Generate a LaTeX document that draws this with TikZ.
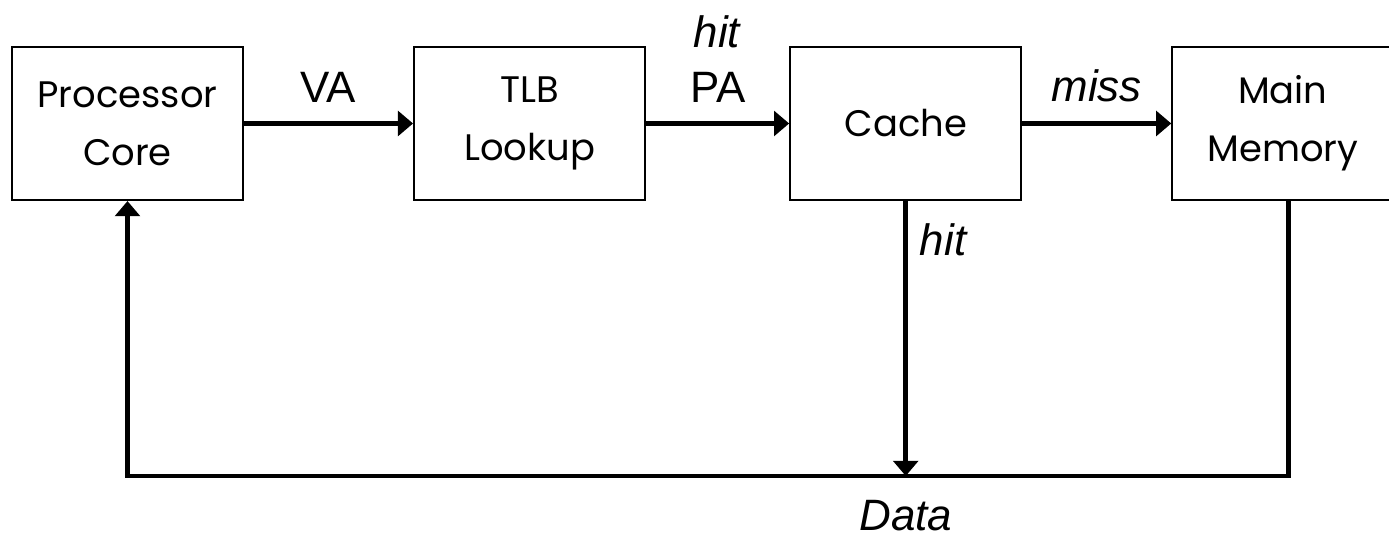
\documentclass[tikz,border=0pt]{standalone}
\usepackage{fontspec}
\setmainfont{Liberation Sans}
\newfontfamily\boxfont{Poppins}
\usetikzlibrary{positioning, arrows.meta}
\tikzset{
unit/.style={draw, semithick, minimum width=2.31cm, minimum height=1.53cm, align=center,
  font=\boxfont\fontsize{10.5}{16.5}\selectfont}, % the blocks of the memory path
flow/.style={line width=1.4pt, -{Triangle[length=4.3pt, width=7pt]}}, % thick directed lines
lbl/.style={font=\fontsize{12.5}{15.6}\selectfont, align=center}, % texts on the lines
}
\begin{document}
\begin{tikzpicture}
    \useasboundingbox (0,0) rectangle (13.89,-5.38);
    \node[unit] (core) at (1.275,-1.235) {Processor\\Core};
    \node[unit, right=1.69cm of core] (tlb) {TLB\\Lookup};
    \node[unit, right=1.43cm of tlb] (cache) {Cache};
    \node[unit, minimum width=2.21cm, right=1.49cm of cache] (mem) {Main\\Memory};
    \coordinate (bus) at (0,-4.76);

  \draw[flow] (core) -- node[lbl, above=2pt]{VA} (tlb);
  \draw[flow] (tlb) -- node[lbl, above=2pt]{\textit{hit}\\PA} (cache);
  \draw[flow] (cache) -- node[lbl, above=2pt]{\textit{miss}} (mem);

  % hit goes straight down to the data bus
  \draw[flow] (cache) -- node[lbl, pos=0.14, right]{\textit{hit}}
        (cache |- bus) node[lbl, below=3pt]{\textit{Data}};
  % data back to the core
  \draw[flow] ([xshift=0.055cm]mem.south) -- ([xshift=0.055cm]mem.south |- bus) -| (core.south);
\end{tikzpicture}
\end{document}
